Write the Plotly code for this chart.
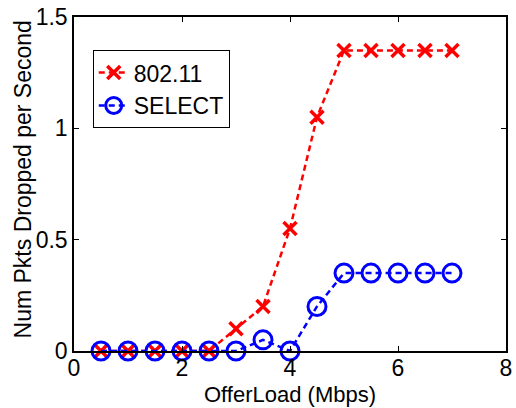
import plotly.graph_objects as go

# Offered load (Mbps) and packet drop rates per scheme
offer_load = [0.5, 1.0, 1.5, 2.0, 2.5, 3.0, 3.5, 4.0, 4.5, 5.0, 5.5, 6.0, 6.5, 7.0]
drops_80211 = [0, 0, 0, 0, 0, 0.1, 0.2, 0.55, 1.05, 1.35, 1.35, 1.35, 1.35, 1.35]
drops_select = [0, 0, 0, 0, 0, 0, 0.05, 0, 0.2, 0.35, 0.35, 0.35, 0.35, 0.35]

x_ticks = [0, 2, 4, 6, 8]
y_ticks = [0, 0.5, 1, 1.5]
y_tick_text = ["0", "0.5", "1", "1.5"]

font = "Liberation Sans"
fsize = 23

fig = go.Figure()
fig.add_trace(go.Scatter(
    x=offer_load, y=drops_80211, name="802.11", mode="lines+markers",
    line=dict(color="#ff0000", width=2.5, dash="6px,4px"),
    marker=dict(symbol="x-thin", size=13, color="#ff0000",
                line=dict(color="#ff0000", width=3.5)),
    cliponaxis=False,
))
fig.add_trace(go.Scatter(
    x=offer_load, y=drops_select, name="SELECT", mode="lines+markers",
    line=dict(color="#0000ff", width=2.5, dash="6px,4px"),
    marker=dict(symbol="circle-open", size=18, color="#0000ff",
                line=dict(color="#0000ff", width=3)),
    cliponaxis=False,
))

axis_common = dict(
    showline=True, linecolor="black", linewidth=1.5, mirror="ticks",
    ticks="inside", ticklen=5, tickcolor="black", tickwidth=1,
    showgrid=False, zeroline=False, ticklabeloverflow="allow",
    tickfont=dict(family=font, size=fsize, color="black"),
)

fig.update_layout(
    width=516, height=408,
    margin=dict(l=74, r=4, t=11, b=57),
    paper_bgcolor="white", plot_bgcolor="white",
    font=dict(family=font, color="black", size=fsize),
    xaxis=dict(range=[0, 8], tickvals=x_ticks, ticklabelstandoff=-4, **axis_common),
    yaxis=dict(range=[0, 1.5], tickvals=y_ticks, ticktext=y_tick_text,
               **axis_common),
    legend=dict(x=0.0434, y=0.901, xanchor="left", yanchor="top",
                bordercolor="black", borderwidth=1, bgcolor="white",
                font=dict(family=font, size=fsize), tracegroupgap=0),
    showlegend=True,
    annotations=[
        dict(text="Num Pkts Dropped per Second", textangle=-90,
             xref="paper", yref="paper", x=-0.117, y=0.515,
             xanchor="center", yanchor="middle", showarrow=False,
             font=dict(family=font, size=fsize, color="black")),
        dict(text="OfferLoad (Mbps)",
             xref="paper", yref="paper", x=0.5, y=-0.0893,
             xanchor="center", yanchor="top", showarrow=False, borderpad=0,
             font=dict(family=font, size=22, color="black")),
    ],
)

fig.write_html("out.html")
